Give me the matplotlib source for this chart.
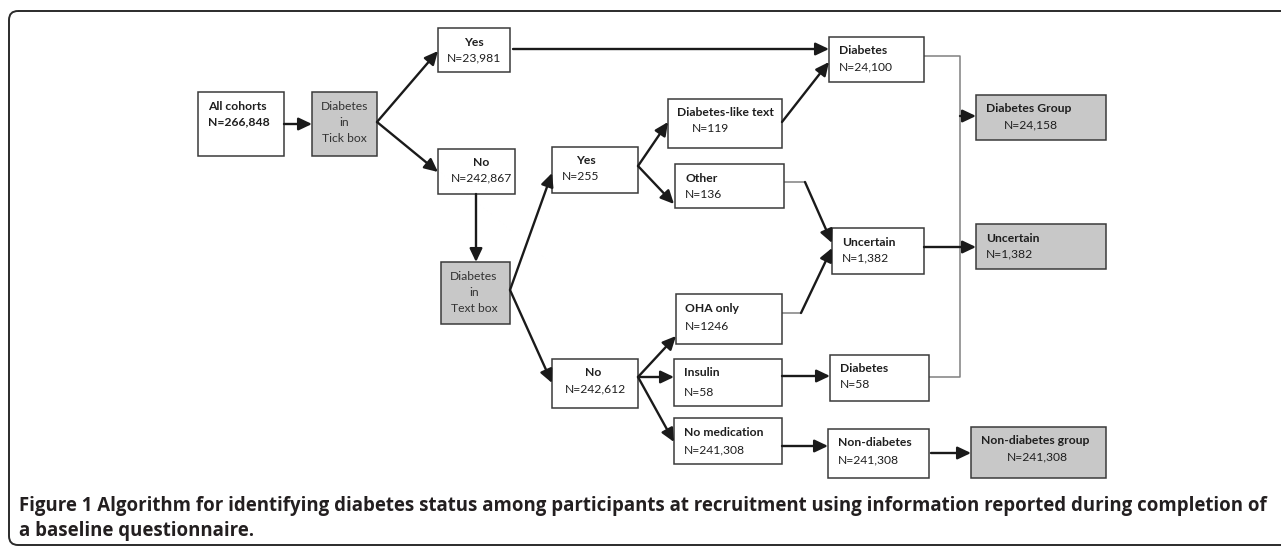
import matplotlib
matplotlib.use("Agg")
import matplotlib.pyplot as plt
from matplotlib.patches import Rectangle, FancyBboxPatch, FancyArrowPatch

# ---------------- data ----------------
node_ids = ["all", "tick", "yes1", "no1", "textbox", "yes2", "no2", "dlt", "other",
            "oha", "insulin", "nomed", "diab1", "unc1", "diab2", "nondiab",
            "dgroup", "ugroup", "ngroup"]
node_titles = ["All cohorts", "Diabetes\nin\nTick box", "Yes", "No", "Diabetes\nin\nText box",
               "Yes", "No", "Diabetes-like text", "Other", "OHA only", "Insulin",
               "No medication", "Diabetes", "Uncertain", "Diabetes", "Non-diabetes",
               "Diabetes Group", "Uncertain", "Non-diabetes group"]
node_counts = ["N=266,848", None, "N=23,981", "N=242,867", None, "N=255", "N=242,612",
               "N=119", "N=136", "N=1246", "N=58", "N=241,308", "N=24,100", "N=1,382",
               "N=58", "N=241,308", "N=24,158", "N=1,382", "N=241,308"]
caption_bold = "Figure 1 Algorithm for identifying diabetes status among participants at recruitment using information reported during completion of"
caption_line2 = "a baseline questionnaire."

# ---------------- layout (pixels) ----------------
# box: x0, y0, x1, y1, filled?
boxes = {
    "all": (198, 92, 284, 156, False), "tick": (312, 92, 377, 156, True),
    "yes1": (438, 28, 510, 72, False), "no1": (438, 149, 515, 194, False),
    "textbox": (441, 262, 510, 324, True), "yes2": (552, 147, 638, 193, False),
    "no2": (552, 359, 638, 408, False), "dlt": (668, 99, 782, 148, False),
    "other": (675, 164, 784, 208, False), "oha": (676, 294, 782, 344, False),
    "insulin": (674, 359, 782, 406, False), "nomed": (674, 418, 782, 464, False),
    "diab1": (829, 37, 924, 82, False), "unc1": (832, 228, 924, 274, False),
    "diab2": (830, 355, 929, 401, False), "nondiab": (828, 429, 929, 478, False),
    "dgroup": (976, 95, 1106, 140, True), "ugroup": (976, 224, 1106, 269, True),
    "ngroup": (971, 427, 1106, 478, True),
}
# title (x, y, ha, bold), count (x, y, ha)
text_pos = {
    "all": ((208, 106, "left", True), (208, 122, "left", True)),
    "tick": ((344.5, 106, "center", False), None),
    "yes1": ((474, 42, "center", True), (474, 58, "center")),
    "no1": ((481, 162, "center", True), (481, 178, "center")),
    "textbox": ((474, 276, "center", False), None),
    "yes2": ((586, 161, "center", True), (562, 177, "left")),
    "no2": ((593, 373, "center", True), (595, 389, "center")),
    "dlt": ((677, 113, "left", True), (692, 129, "left")),
    "other": ((685, 178, "left", True), (685, 194, "left")),
    "oha": ((685, 308, "left", True), (685, 326, "left")),
    "insulin": ((684, 373, "left", True), (684, 392, "left")),
    "nomed": ((684, 432, "left", True), (684, 450, "left")),
    "diab1": ((839, 51, "left", True), (839, 67, "left")),
    "unc1": ((842, 242, "left", True), (842, 258, "left")),
    "diab2": ((840, 368, "left", True), (840, 384, "left")),
    "nondiab": ((838, 443, "left", True), (838, 460, "left")),
    "dgroup": ((986, 108, "left", True), (1004, 125, "left")),
    "ugroup": ((986, 238, "left", True), (986, 254, "left")),
    "ngroup": ((981, 440, "left", True), (1007, 457, "left")),
}
arrows = [
    ((284, 124), (312, 124)), ((377, 122), (438, 51)), ((377, 122), (438, 172)),
    ((513, 49), (829, 49)), ((476, 194), (476, 262)), ((510, 290), (552, 173)),
    ((510, 290), (552, 383)), ((638, 166), (668, 122)), ((638, 166), (674, 204)),
    ((782, 122), (829, 62)), ((805, 182), (832, 243)), ((801, 313), (832, 248)),
    ((924, 247), (976, 247)), ((960, 116), (976, 116)), ((638, 377), (676, 336)),
    ((638, 377), (674, 377)), ((638, 377), (674, 442)), ((782, 376), (830, 376)),
    ((782, 446), (828, 446)), ((931, 453), (971, 453)),
]
thin_lines = [
    [(924, 56), (960, 56), (960, 377), (929, 377)],
    [(784, 182), (805, 182)],
    [(782, 313), (801, 313)],
]

W, H = 1281, 547
fig = plt.figure(figsize=(W / 100, H / 100), dpi=100)
ax = fig.add_axes([0, 0, 1, 1])
ax.set_xlim(0, W)
ax.set_ylim(H, 0)
ax.axis("off")

FONT = ["Lato", "DejaVu Sans"]
FS = 8.7
EDGE = "#3a3a3a"
GRAY = "#c8c8c8"

# outer frame
frame = FancyBboxPatch((9, 11), 1300, 534, boxstyle="round,pad=0,rounding_size=9",
                       fill=False, ec="#2b2b2b", lw=1.4, clip_on=True)
ax.add_patch(frame)

for nid, title, count in zip(node_ids, node_titles, node_counts):
    x0, y0, x1, y1, filled = boxes[nid]
    ax.add_patch(Rectangle((x0, y0), x1 - x0, y1 - y0, fc=GRAY if filled else "white",
                           ec=EDGE, lw=1.1, zorder=3))
    tp, cp = text_pos[nid]
    if count is None:
        lines = title.split("\n")
        for i, ln in enumerate(lines):
            ax.text(tp[0], tp[1] + 16 * i, ln, ha="center", va="center", fontsize=FS,
                    family=FONT, color="#333333", zorder=4)
    else:
        ax.text(tp[0], tp[1], title, ha=tp[2], va="center", fontsize=FS, family=FONT,
                fontweight="bold" if tp[3] else "normal", color="#1e1e1e", zorder=4)
        ax.text(cp[0], cp[1], count, ha=cp[2], va="center", fontsize=FS, family=FONT,
                fontweight="bold" if nid == "all" else "normal", color="#1e1e1e", zorder=4)

for pts in thin_lines:
    xs, ys = zip(*pts)
    ax.plot(xs, ys, color="#808080", lw=1.1, zorder=2, solid_capstyle="butt")

for (p0, p1) in arrows:
    ax.add_patch(FancyArrowPatch(p0, p1, arrowstyle="-|>,head_length=0.8,head_width=0.38",
                                 mutation_scale=10, lw=1.7, color="#1a1a1a",
                                 shrinkA=0, shrinkB=0, zorder=5))

ax.text(19, 506, caption_bold, ha="left", va="center", fontsize=13.45,
        family=["Open Sans", "DejaVu Sans"], fontweight="bold", color="#231f20")
ax.text(19, 531, caption_line2, ha="left", va="center", fontsize=13.45,
        family=["Open Sans", "DejaVu Sans"], fontweight="bold", color="#231f20")

fig.savefig("out.png", dpi=100)
